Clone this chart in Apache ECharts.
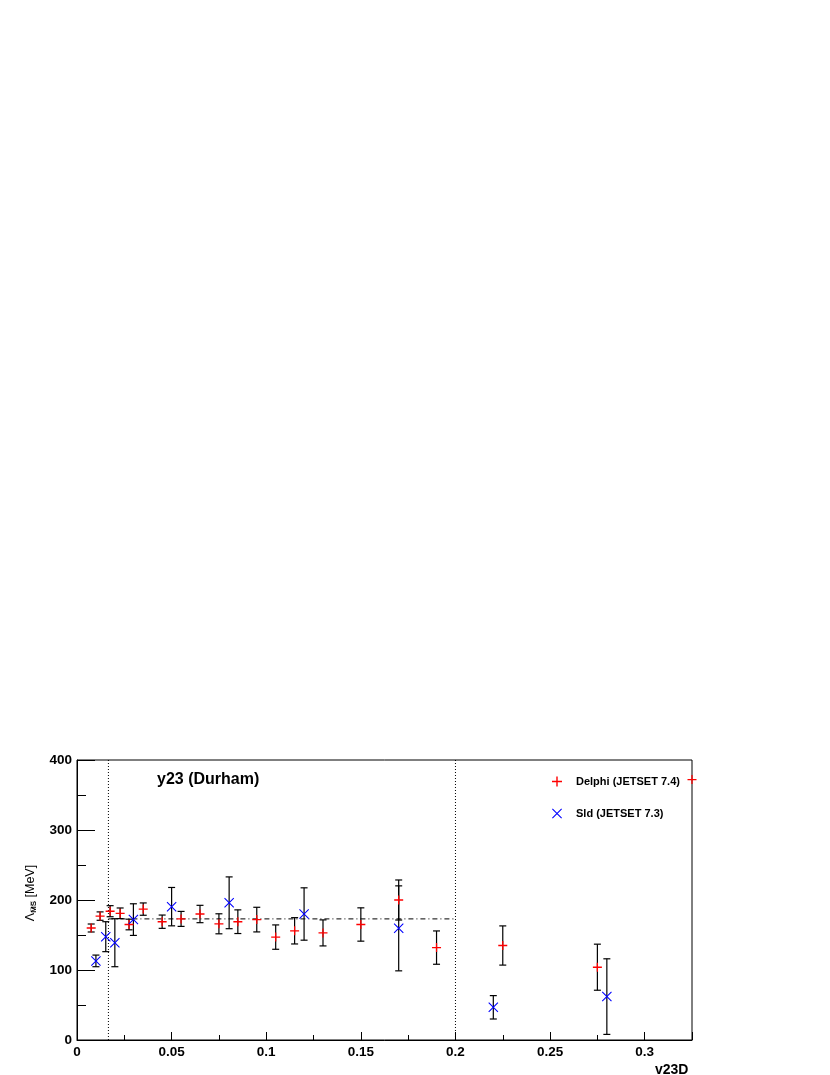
<!DOCTYPE html>
<html>
<head>
<meta charset="utf-8">
<script src="https://cdn.jsdelivr.net/npm/echarts@6/dist/echarts.min.js"></script>
<style>html,body{margin:0;padding:0;background:#fff;}#c{width:830px;height:1075px;}</style>
</head>
<body>
<div id="c"></div>
<script>
// Delphi (JETSET 7.4)
var delphiX   = [0.0075,0.0122,0.0175,0.0228,0.0275,0.035,0.045,0.055,0.065,0.075,0.085,0.095,0.105,0.115,0.13,0.15,0.17,0.19,0.225,0.275,0.325];
var delphiY   = [160,177,184,181,165,187,169,173,180,166,169,172,147,156,153,165,200,132,135,104,372];
var delphiErr = [5.7,6,7.9,7.6,7.6,8.8,9.5,10.7,12.4,14.3,16.9,17.6,17.4,18.8,18.6,23.8,28.6,23.8,28,32.9,0];
// Sld (JETSET 7.3)
var sldX   = [0.01,0.0152,0.02,0.0298,0.05,0.0804,0.12,0.17,0.22,0.28];
var sldY   = [113,147.6,139,172,190.5,196,180,159.5,46.7,62];
var sldErr = [8.3,21.4,34.3,22.6,27.4,37,37.4,60.7,16.7,54];
// reference lines
var fitLevel = 173;
var rangeLow = 0.0166, rangeHigh = 0.2;
var xTicks = [0,0.05,0.1,0.15,0.2,0.25,0.3];
var yTicks = [0,100,200,300,400];

var FONT = 'Liberation Sans';
var plusPath = 'path://M0,4.25H10V5.75H0Z M4.3,0H5.7V10H4.3Z';
var crossPath = 'path://M0,0.75L0.75,0L10,9.25L9.25,10Z M9.25,0L10,0.75L0.75,10L0,9.25Z';

function rows(xs, ys, es){ return xs.map(function(x,i){ return [x, ys[i], es[i]]; }); }
var delphiData = rows(delphiX, delphiY, delphiErr);
var sldData = rows(sldX, sldY, sldErr);

function errRender(params, api){
  var x = api.value(0), y = api.value(1), e = api.value(2);
  if (!e) return null;
  var top = api.coord([x, y + e]), bot = api.coord([x, y - e]);
  var cw = 3.5;
  var st = {stroke:'#000', lineWidth:1.2};
  return {type:'group', children:[
    {type:'line', shape:{x1:top[0],y1:top[1],x2:bot[0],y2:bot[1]}, style:st},
    {type:'line', shape:{x1:top[0]-cw,y1:top[1],x2:top[0]+cw,y2:top[1]}, style:st},
    {type:'line', shape:{x1:bot[0]-cw,y1:bot[1],x2:bot[0]+cw,y2:bot[1]}, style:st}
  ]};
}

var chart = echarts.init(document.getElementById('c'), null, {renderer:'canvas'});
chart.setOption({
  animation:false,
  backgroundColor:'#fff',
  grid:{left:77, right:138, top:760, bottom:35, show:true, borderColor:'#000', borderWidth:1, backgroundColor:'transparent'},
  xAxis:{
    type:'value', min:0, max:0.325, interval:0.05,
    axisLine:{show:true, onZero:false, lineStyle:{color:'#000', width:1}},
    axisTick:{show:true, inside:true, length:8, lineStyle:{color:'#000'}},
    minorTick:{show:true, splitNumber:2, length:5, lineStyle:{color:'#000'}},
    splitLine:{show:false},
    axisLabel:{color:'#000', fontFamily:FONT, fontWeight:'bold', fontSize:13.5, margin:5,
      formatter:function(v){ for (var i=0;i<xTicks.length;i++){ if (Math.abs(v-xTicks[i])<1e-9) return String(xTicks[i]); } return ''; }}
  },
  yAxis:{
    type:'value', min:0, max:400, interval:100,
    axisLine:{show:true, onZero:false, lineStyle:{color:'#000', width:1}},
    axisTick:{show:true, inside:true, length:18, lineStyle:{color:'#000'}},
    minorTick:{show:true, splitNumber:2, length:9, lineStyle:{color:'#000'}},
    splitLine:{show:false},
    axisLabel:{color:'#000', fontFamily:FONT, fontWeight:'bold', fontSize:13.5, margin:5,
      formatter:function(v){ return yTicks.indexOf(v) >= 0 ? String(v) : ''; }}
  },
  legend:{
    orient:'vertical', left:547, top:771, itemWidth:10, itemHeight:10, itemGap:21,
    textStyle:{color:'#000', fontFamily:FONT, fontWeight:'bold', fontSize:11, padding:[0,0,0,9]},
    data:[
      {name:'Delphi (JETSET 7.4)', icon:plusPath, itemStyle:{color:'#ff0000'}},
      {name:'Sld (JETSET 7.3)', icon:crossPath, itemStyle:{color:'#0000ff'}}
    ]
  },
  graphic:[
    {type:'text', left:157, top:772, style:{text:'y23 (Durham)', fill:'#000', font:'bold 16px "Liberation Sans"'}},
    {type:'text', left:655, top:1063, style:{text:'v23D', fill:'#000', font:'bold 14px "Liberation Sans"'}},
    {type:'text', x:31, y:893, rotation:Math.PI/2,
      style:{text:'{a|Λ}{s|M̅S̅} {a|[MeV]}', align:'center', verticalAlign:'middle',
        rich:{a:{fill:'#000', fontFamily:FONT, fontSize:12.5, fontWeight:'normal'},
              s:{fill:'#000', fontFamily:FONT, fontSize:8, fontWeight:'bold', verticalAlign:'bottom', padding:[6,0,0,0]}}}}
  ],
  series:[
    {type:'line', silent:true, symbol:'none', data:[[rangeLow,0],[rangeLow,400]],
      lineStyle:{color:'#000', width:1, type:[1,2]}, z:1},
    {type:'line', silent:true, symbol:'none', data:[[rangeHigh,0],[rangeHigh,400]],
      lineStyle:{color:'#000', width:1, type:[1,2]}, z:1},
    {type:'line', silent:true, symbol:'none', data:[[rangeLow,fitLevel],[rangeHigh,fitLevel]],
      lineStyle:{color:'#000', width:1, type:[5,3,1,3]}, z:1},
    {type:'custom', name:'errD', renderItem:errRender, data:delphiData, encode:{x:0,y:1}, clip:false, z:2},
    {type:'custom', name:'errS', renderItem:errRender, data:sldData, encode:{x:0,y:1}, clip:false, z:2},
    {type:'scatter', name:'Delphi (JETSET 7.4)', data:delphiData, symbol:plusPath, symbolSize:9,
      itemStyle:{color:'#ff0000', opacity:1}, clip:false, z:3},
    {type:'scatter', name:'Sld (JETSET 7.3)', data:sldData, symbol:crossPath, symbolSize:10,
      itemStyle:{color:'#0000ff', opacity:1}, clip:false, z:3}
  ]
});
</script>
</body>
</html>
